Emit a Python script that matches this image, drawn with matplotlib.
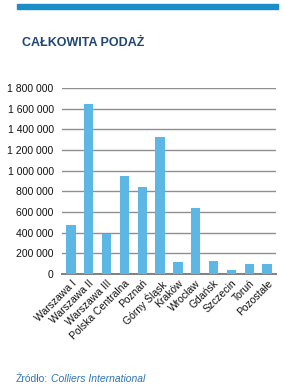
import matplotlib
matplotlib.use("Agg")
import matplotlib.pyplot as plt
from matplotlib.patches import Rectangle

categories = ["Warszawa I", "Warszawa II", "Warszawa III", "Polska Centralna", "Poznań",
              "Górny Śląsk", "Kraków", "Wrocław", "Gdańsk", "Szczecin", "Toruń", "Pozostałe"]
values = [470000, 1650000, 390000, 950000, 845000, 1330000, 115000, 640000, 130000, 40000, 95000, 100000]
yticks = [0, 200000, 400000, 600000, 800000, 1000000, 1200000, 1400000, 1600000, 1800000]
ytick_labels = ["0", "200 000", "400 000", "600 000", "800 000", "1 000 000",
                "1 200 000", "1 400 000", "1 600 000", "1 800 000"]

plt.rcParams['font.family'] = ['Liberation Sans', 'DejaVu Sans']

W, H = 285, 389
fig = plt.figure(figsize=(W / 100, H / 100), dpi=100)
fig.patch.set_facecolor("white")

# top blue band
fig.patches.append(Rectangle((17 / W, 1 - 8.5 / H), (278 - 17) / W, 4.5 / H,
                             transform=fig.transFigure, color="#1b8dc9", zorder=1))

fig.text(22 / W, 1 - 43 / H, "CAŁKOWITA PODAŻ", fontsize=9, fontweight="bold",
         color="#1f4672", va="center", ha="left")

ax = fig.add_axes([62 / W, 1 - 274 / H, (276 - 62) / W, (274 - 88) / H])
x = list(range(len(categories)))
ax.bar(x, values, width=0.52, color="#5cb7e5", zorder=3)
ax.set_xlim(-0.5, len(categories) - 0.5)
ax.set_ylim(0, 1800000)
ax.set_yticks(yticks)
ax.set_yticklabels(ytick_labels, fontsize=7.5, color="#111111")
ax.set_xticks(x)
ax.set_xticklabels(categories, rotation=45, ha="right", rotation_mode="anchor",
                   fontsize=7.5, color="#111111")
ax.tick_params(axis="both", length=0, pad=6)
ax.tick_params(axis="x", pad=3)
ax.grid(axis="y", color="#8f8f8f", linewidth=1.0, zorder=0)
for s in ["top", "right", "left"]:
    ax.spines[s].set_visible(False)
ax.spines["bottom"].set_color("#808080")
ax.spines["bottom"].set_linewidth(1.4)
ax.set_axisbelow(True)

src = fig.text(16 / W, 1 - 379 / H, "Źródło:", fontsize=7.5, color="#2e75b6",
               va="center", ha="left")
fig.canvas.draw()
fig.text(0, 0, "Colliers International", fontsize=7.5, color="#2e75b6", style="italic",
         va="center", ha="left",
         transform=matplotlib.transforms.offset_copy(
             fig.transFigure, fig=fig, x=0, y=0, units="dots"),
         position=(src.get_window_extent().x1 / (W) + 3 / W, 1 - 379 / H))

fig.savefig("out.png", dpi=100, facecolor="white")
